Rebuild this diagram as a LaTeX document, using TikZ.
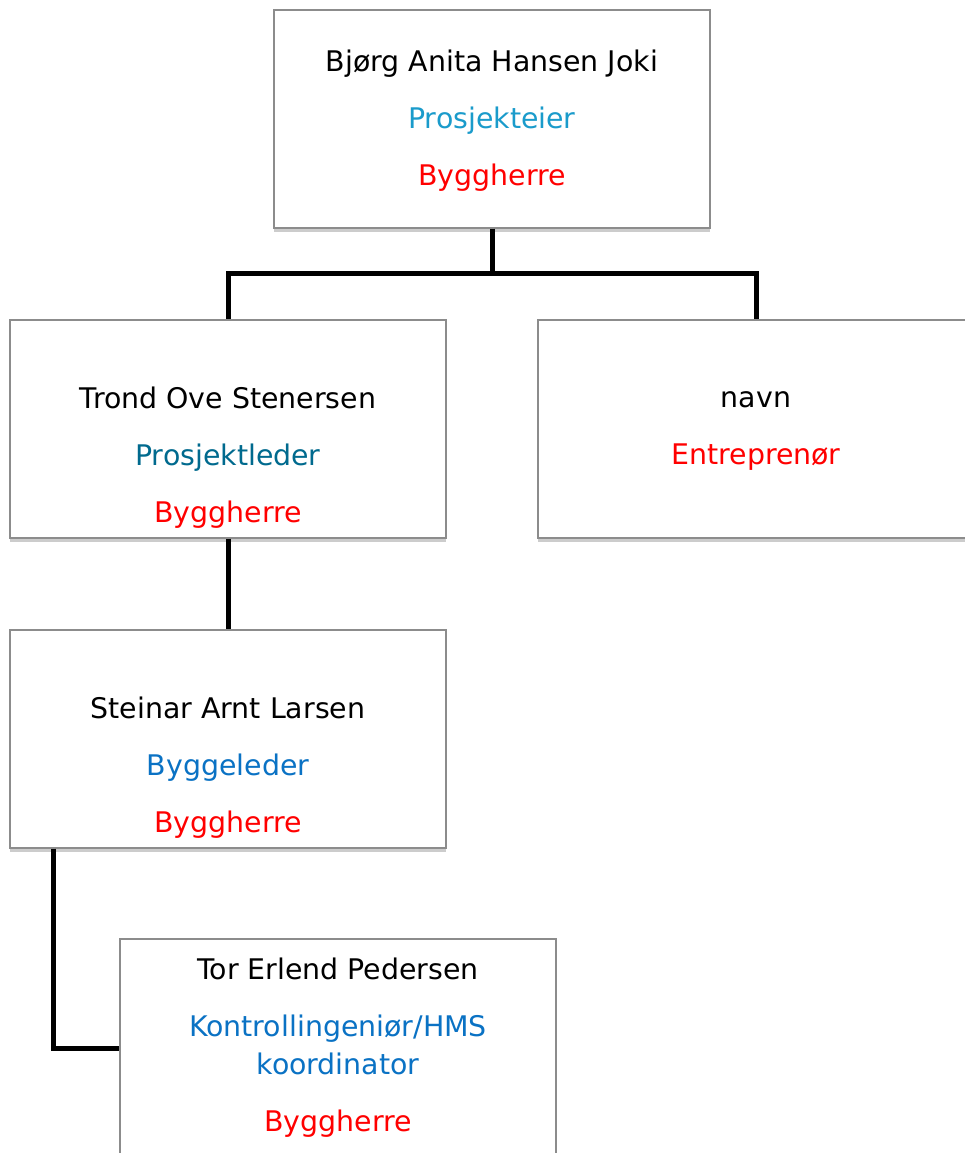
\documentclass[tikz,border=0pt]{standalone}
\usepackage{fontspec}
\setmainfont{DejaVu Sans}
\usetikzlibrary{shadows}

\definecolor{eierblue}{RGB}{26,155,203}
\definecolor{lederblue}{RGB}{0,106,142}
\definecolor{byggblue}{RGB}{10,114,196}
\definecolor{boxgray}{RGB}{140,140,140}

\tikzset{
	box/.style = {draw = boxgray, line width = .7pt, fill = white, minimum width = 218pt, minimum height = 109pt, inner sep = 0pt,
		drop shadow = {shadow xshift = 0pt, shadow yshift = -2pt, opacity = .2, fill = black}},
	txt/.style = {align = center, inner sep = 0pt, font = \fontsize{14.2}{28.5}\selectfont},
	conn/.style = {line width = 2.5pt, line join = miter}
}

\begin{document}
\begin{tikzpicture}[x = .5pt, y = -.5pt]
		\useasboundingbox (0,0) rectangle (965,1153);

		% boxes
		\node (eier) at (492,119) [box] {};
		\node (leder) at (228,429) [box] {};
		\node (entr) at (756,429) [box] {};
		\node (bygg) at (228,739) [box] {};
		\node (kontroll) at (338,1048) [box] {};

		% texts
		\node (eier-t) at (492,121) [txt] {Bjørg Anita Hansen Joki\\ \textcolor{eierblue}{Prosjekteier}\\ \textcolor{red}{Byggherre}};
		\node (leder-t) at (228,458) [txt] {Trond Ove Stenersen\\ \textcolor{lederblue}{Prosjektleder}\\ \textcolor{red}{Byggherre}};
		\node (entr-t) at (756,431) [txt] {navn\\ \textcolor{red}{Entreprenør}};
		\node (bygg-t) at (228,768) [txt] {Steinar Arnt Larsen\\ \textcolor{byggblue}{Byggeleder}\\ \textcolor{red}{Byggherre}};
		\node (kontroll-t) at (338,1048) [txt] {Tor Erlend Pedersen\\ \textcolor{byggblue}{Kontrollingeniør/HMS}\\[-9.5pt] \textcolor{byggblue}{koordinator}\\ \textcolor{red}{Byggherre}};

		% connectors
		\coordinate (split) at (492,273);
		\draw [conn] (eier.south) -- (split) -| (leder.north);
		\draw [conn] (split) -| (entr.north);
		\draw [conn] (leder.south) -- (bygg.north);
		\draw [conn] ([xshift = 22pt]bygg.south west) |- (kontroll.west);
\end{tikzpicture}
\end{document}
